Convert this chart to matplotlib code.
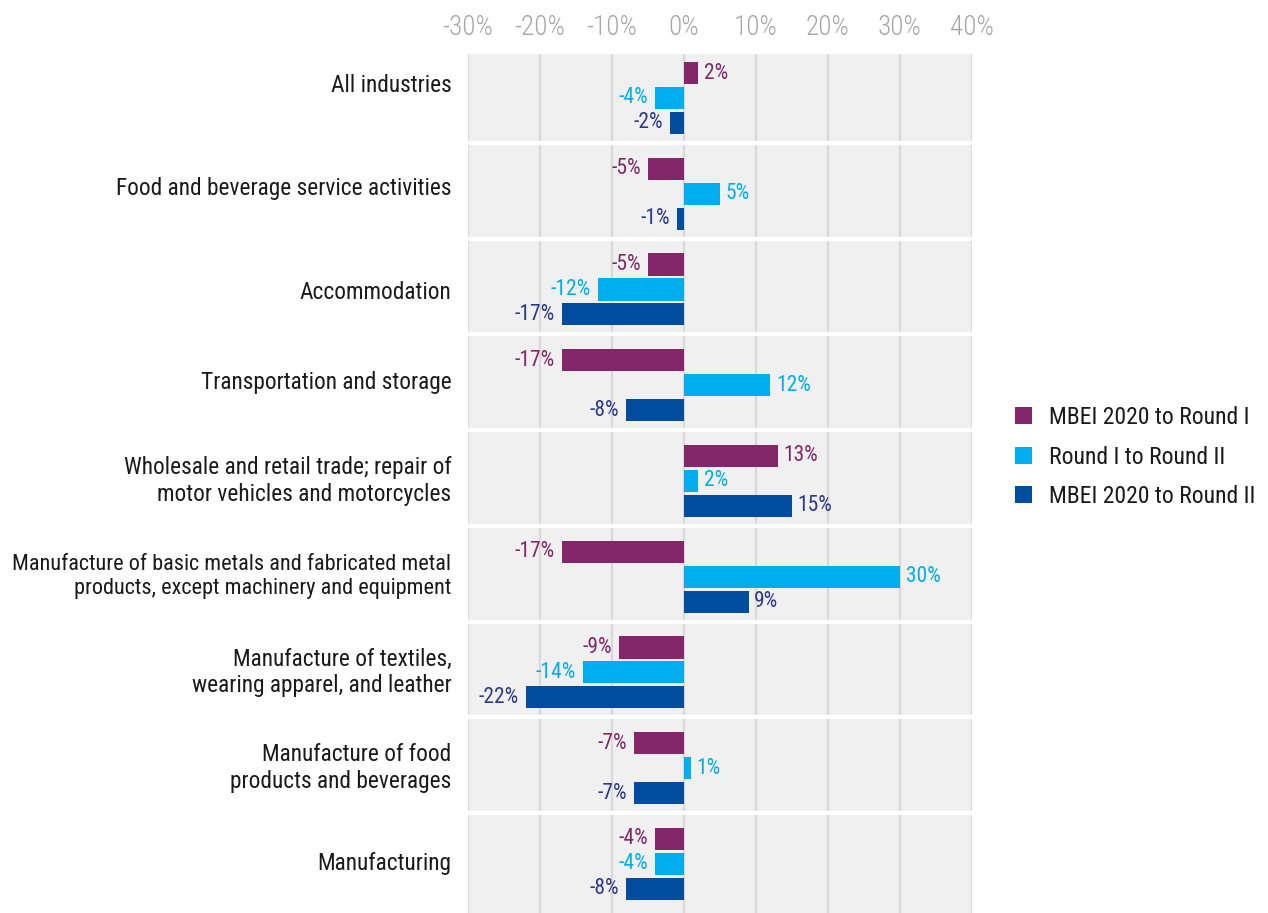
import matplotlib
matplotlib.use("Agg")
import matplotlib.pyplot as plt
from matplotlib.patches import Patch
import numpy as np

# Change in business expectations by industry (percentage points)
industries = [
    "All industries",
    "Food and beverage service activities",
    "Accommodation",
    "Transportation and storage",
    "Wholesale and retail trade; repair of\nmotor vehicles and motorcycles",
    "Manufacture of basic metals and fabricated metal\nproducts, except machinery and equipment",
    "Manufacture of textiles,\nwearing apparel, and leather",
    "Manufacture of food\nproducts and beverages",
    "Manufacturing",
]
series_names = ["MBEI 2020 to Round I", "Round I to Round II", "MBEI 2020 to Round II"]
mbei_to_r1 = [2, -5, -5, -17, 13, -17, -9, -7, -4]
r1_to_r2 = [-4, 5, -12, 12, 2, 30, -14, 1, -4]
mbei_to_r2 = [-2, -1, -17, -8, 15, 9, -22, -7, -8]
x_ticks = [-30, -20, -10, 0, 10, 20, 30, 40]

bar_colors = ["#84276a", "#00aeef", "#004da0"]
text_colors = ["#84276a", "#00aeef", "#2b3a8c"]
FONT = "Roboto Condensed"

fig = plt.figure(figsize=(12.68, 9.13), dpi=100)
ax = fig.add_axes([468 / 1268, 0, 504 / 1268, 859 / 913])
ax.set_facecolor("#f0f0f0")

series = [mbei_to_r1, r1_to_r2, mbei_to_r2]
pos = np.arange(len(industries))
step = 0.261
height = 0.23

for k, vals in enumerate(series):
    y = pos + (k - 1) * step
    ax.barh(y, vals, height=height, color=bar_colors[k], zorder=3)
    for yi, v in zip(y, vals):
        ax.annotate(f"{v}%", xy=(v, yi), xytext=(4 if v >= 0 else -5, 0),
                    textcoords="offset points", ha="left" if v >= 0 else "right",
                    va="center", fontsize=15.5, color=text_colors[k], family=FONT,
                    zorder=4)

# vertical gridlines, with white bands separating industries drawn over them
for t in x_ticks:
    ax.axvline(t, color="#d9d9d9", lw=1.6, zorder=1)
for b in pos[:-1] + 0.47:
    ax.axhline(b, color="white", lw=3.0, zorder=2)

ax.set_xlim(-30, 40)
ax.set_ylim(8.512, -0.4595)

ax.xaxis.tick_top()
ax.set_xticks(x_ticks)
ax.set_xticklabels([f"{t}%" for t in x_ticks], fontsize=19.5, color="#a6a6a6",
                   family=FONT, fontweight="light")
ax.tick_params(axis="x", length=0, pad=9.5)

# industry names on the left; the first two sit a little higher in their band,
# and the long metals label is set slightly smaller so it fits the margin
ax.set_yticks(pos)
ax.set_yticklabels([])
ax.tick_params(axis="y", length=0)
label_lift = [9, 4, -2, 2, 0, 0, 0, 0, 0]
label_size = [16.8, 16.8, 16.8, 16.8, 16.8, 16, 16.8, 16.8, 16.8]
for p, name, lift, size in zip(pos, industries, label_lift, label_size):
    ax.annotate(name, xy=(0, p), xycoords=("axes fraction", "data"),
                xytext=(-12, lift), textcoords="offset points",
                ha="right", va="center", fontsize=size, color="#1a1a1a",
                family=FONT, linespacing=1.2)

for s in ax.spines.values():
    s.set_visible(False)

handles = [Patch(facecolor=c, edgecolor="none") for c in bar_colors]
fig.legend(handles, series_names, loc="center left",
           bbox_to_anchor=(1015 / 1268, 1 - 457 / 913), frameon=False,
           prop={"family": FONT, "size": 17}, handlelength=0.72,
           handleheight=0.72, handletextpad=0.7, labelspacing=0.7,
           borderpad=0, borderaxespad=0, labelcolor="#1a1a1a")

fig.savefig("out.png", dpi=100)
